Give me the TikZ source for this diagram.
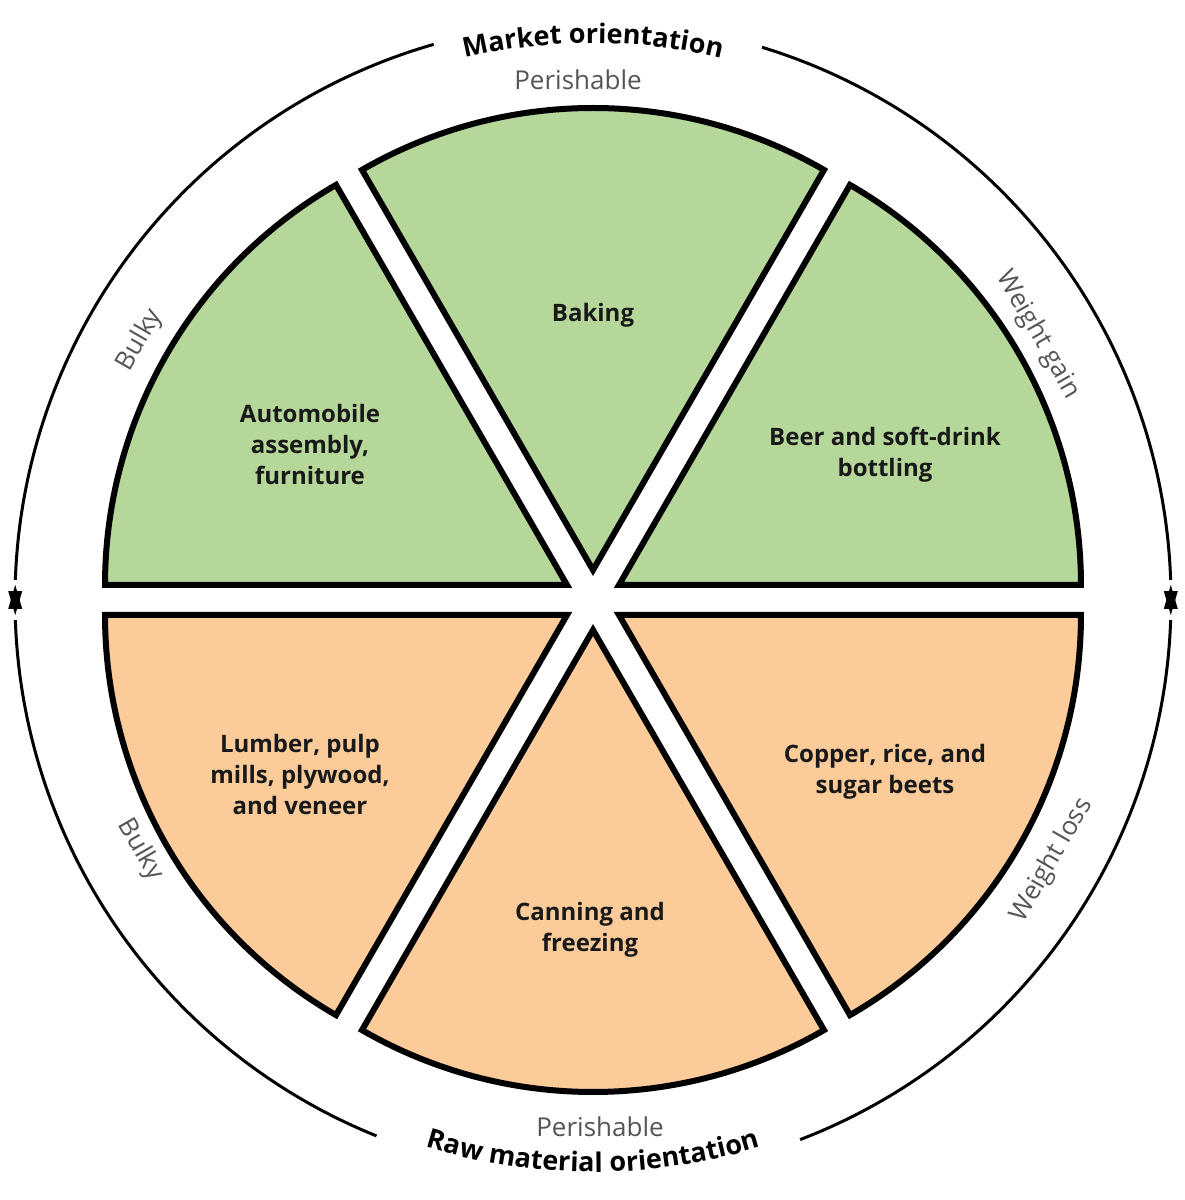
\documentclass[tikz,border=0pt]{standalone}
\usepackage{fontspec}
\setmainfont{Open Sans}
\usetikzlibrary{decorations.text,calc}
\definecolor{grn}{HTML}{B5D89A}
\definecolor{org}{HTML}{FBCB9A}
\definecolor{gry}{HTML}{555555}
\begin{document}
\begin{tikzpicture}[x=1pt,y=1pt,
  slice/.style={draw=black,line width=6pt,line join=miter},
  lab/.style={align=center,font=\bfseries\fontsize{24}{31}\selectfont,text=black!90},
  side/.style={font=\fontsize{26}{30}\selectfont,text=gry},
  ring/.style={line width=3pt},
  tip/.style={fill=black}]
\useasboundingbox (0,0) rectangle (1185,1200);
\coordinate (c) at (593,600);
\foreach \b/\col in {90/grn,150/grn,30/grn,210/org,270/org,330/org}{
  \path[slice,fill=\col] ($(c)+(\b:30)$) -- ++(\b-30:462) arc[start angle=\b-30,end angle=\b+30,radius=462] -- cycle;
}
\node[lab] (bak) at (593,885) {Baking};
\node[lab] (aut) at (310,755) {Automobile\\assembly,\\furniture};
\node[lab] (beer) at (885,745) {Beer and soft-drink\\bottling};
\node[lab] (lum) at (300,425) {Lumber, pulp\\mills, plywood,\\and veneer};
\node[lab] (cop) at (885,428) {Copper, rice, and\\sugar beets};
\node[lab] (can) at (590,270) {Canning and\\freezing};
\node[side] (p1) at (578,1120) {Perishable};
\node[side] (p2) at (600,73) {Perishable};
\node[side,rotate=60] (b1) at (140,860) {Bulky};
\node[side,rotate=-60] (b2) at (140,350) {Bulky};
\node[side,rotate=-60] (wg) at (1038,865) {Weight gain};
\node[side,rotate=60] (wl) at (1052,340) {Weight loss};
% arcs
\draw[ring] ($(c)+(106:578)$) arc[start angle=106,end angle=178,radius=578];
\draw[ring] ($(c)+(73:578)$) arc[start angle=73,end angle=2,radius=578];
\draw[ring] ($(c)+(248:578)$) arc[start angle=248,end angle=182,radius=578];
\draw[ring] ($(c)+(291:578)$) arc[start angle=291,end angle=358,radius=578];
% arrow tips
\coordinate (t1) at ($(c)+(181.5:578)$);
\coordinate (t2) at ($(c)+(-1.5:578)$);
\coordinate (t3) at ($(c)+(178.5:578)$);
\coordinate (t4) at ($(c)+(1.5:578)$);
\fill[tip] (t1) -- ++(-7,24) -- ++(14,0) -- cycle;
\fill[tip] (t2) -- ++(-7,24) -- ++(14,0) -- cycle;
\fill[tip] (t3) -- ++(-7,-24) -- ++(14,0) -- cycle;
\fill[tip] (t4) -- ++(-7,-24) -- ++(14,0) -- cycle;
\path[decorate,decoration={text along path,text align=center,
  text={|\bfseries\fontsize{27}{30}\selectfont|Market orientation}}]
  ($(c)+(112:557)$) arc[start angle=112,end angle=68,radius=557];
\path[decorate,decoration={text along path,text align=center,
  text={|\bfseries\fontsize{27}{30}\selectfont|Raw material orientation}}]
  ($(c)+(246:572)$) arc[start angle=246,end angle=294,radius=572];
\end{tikzpicture}
\end{document}
